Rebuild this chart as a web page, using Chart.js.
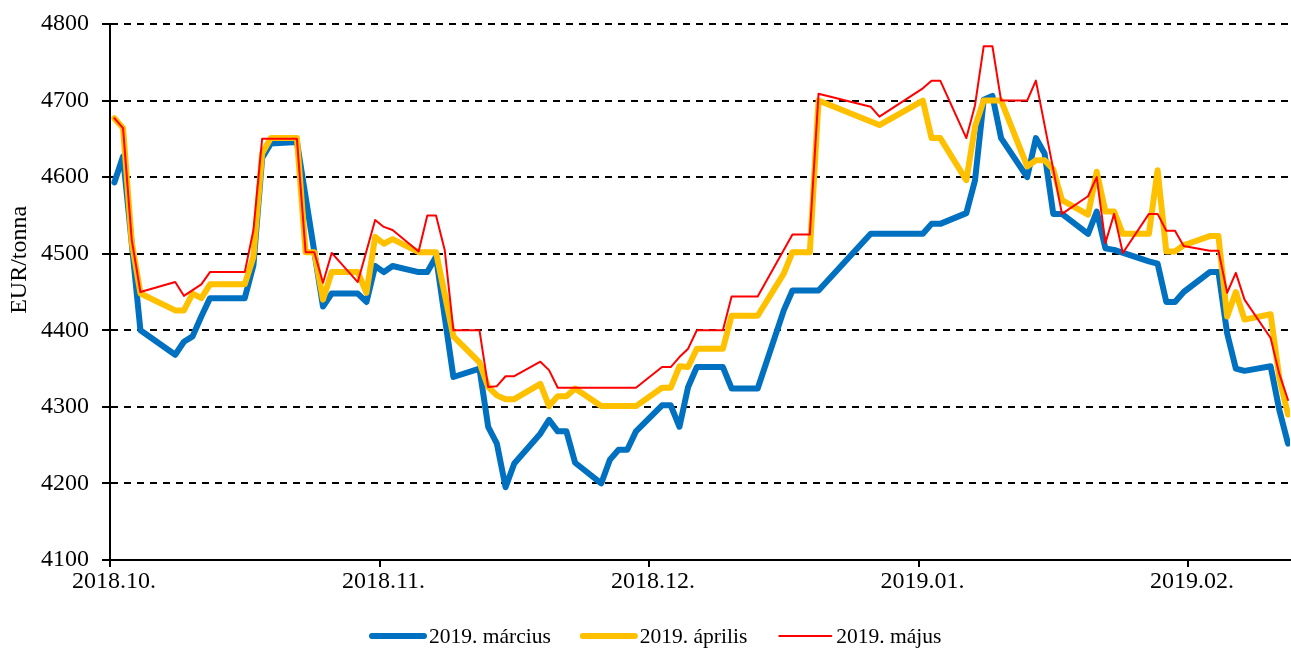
<!DOCTYPE html>
<html>
<head>
<meta charset="utf-8">
<script src="https://cdn.jsdelivr.net/npm/chart.js@4/dist/chart.umd.min.js"></script>
<style>
  html, body { margin: 0; padding: 0; background: #ffffff; }
  #wrap { width: 1291px; height: 651px; position: relative; }
</style>
</head>
<body>
<div id="wrap"><canvas id="chart"></canvas></div>
<script>
// Trading days (price quotes) from 2018-10-01 onwards
const tradingDays = [
  '2018-10-01','2018-10-02','2018-10-03','2018-10-04','2018-10-08','2018-10-09','2018-10-10','2018-10-11','2018-10-12',
  '2018-10-16','2018-10-17','2018-10-18','2018-10-19','2018-10-22','2018-10-23','2018-10-24','2018-10-25','2018-10-26',
  '2018-10-29','2018-10-30','2018-10-31','2018-11-01','2018-11-02','2018-11-05','2018-11-06','2018-11-07','2018-11-08',
  '2018-11-09','2018-11-12','2018-11-13','2018-11-14','2018-11-15','2018-11-16','2018-11-19','2018-11-20','2018-11-21',
  '2018-11-22','2018-11-23','2018-11-26','2018-11-27','2018-11-28','2018-11-29','2018-11-30','2018-12-03','2018-12-04',
  '2018-12-05','2018-12-06','2018-12-07','2018-12-10','2018-12-11','2018-12-14','2018-12-17','2018-12-18','2018-12-20',
  '2018-12-21','2018-12-27','2018-12-28','2019-01-02','2019-01-03','2019-01-04','2019-01-07','2019-01-08','2019-01-09',
  '2019-01-10','2019-01-11','2019-01-14','2019-01-15','2019-01-16','2019-01-17','2019-01-18','2019-01-21','2019-01-22',
  '2019-01-23','2019-01-24','2019-01-25','2019-01-28','2019-01-29','2019-01-30','2019-01-31','2019-02-01','2019-02-04',
  '2019-02-05','2019-02-06','2019-02-07','2019-02-08','2019-02-11','2019-02-12','2019-02-13'
];

// Futures prices, EUR/tonna (null = no quote shown for that day)
const marcius = [
  4593,4627,null,4400,4368,4385,4392,4418,4442,
  4442,4485,4625,4644,4646,null,null,4431,4448,
  4448,4437,4484,4476,4484,4476,4476,4496,null,
  4339,4350,4274,4252,4195,4226,4265,4283,4268,
  4268,4227,4200,4231,4244,4244,4268,4302,4302,
  4274,4326,4352,4352,4324,4324,4426,4452,null,
  4452,4526,null,4526,4539,4539,4553,4596,4701,
  4706,4651,4600,4651,4631,4552,4552,4526,4555,
  4507,4505,null,4490,4487,4437,4437,4450,4476,
  4476,4396,4350,4347,4353,4296,4252
];
const aprilis = [
  4677,4664,4515,4448,4426,4426,4448,4442,4460,
  4460,4496,4631,4651,4651,4502,4502,4440,4476,
  4476,4449,4522,4513,4519,4502,null,4502,null,
  4392,4358,4326,4315,4310,4310,4330,4301,4314,
  4314,4324,4301,null,null,null,4301,4325,4325,
  4353,4352,4376,4376,4419,4419,4474,4502,4502,
  4700,null,4668,4700,4651,4651,4596,4666,4700,
  null,4700,4614,4622,4622,4610,4570,4551,4607,
  4555,4555,4526,4526,4609,4503,4503,4511,4523,
  4523,4418,4450,4414,4421,4338,4290
];
const majus = [
  4677,4664,4518,4450,4463,4445,null,4460,4476,
  4476,4531,4650,null,4650,4502,4502,4462,4501,
  4463,null,4544,4535,4531,4503,4550,4550,4505,
  4400,4400,4326,4327,4340,4340,4359,4348,4325,
  null,null,null,null,null,null,4325,4352,4352,
  4365,4376,4400,4400,4444,4444,null,4525,4525,
  4709,4692,4679,4716,4726,4726,4651,4694,4771,
  4771,4700,4700,4726,null,null,4552,4575,4600,
  4514,4552,4501,4552,4552,4530,4530,4510,4504,
  4504,4449,4475,4440,4390,4343,4309
];

const seriesNames = ['2019. március', '2019. április', '2019. május'];
const seriesColors = ['#0070C0', '#FFC000', '#FF0000'];

// Axis: days counted from the first day, labels every 31 days
const axisStart = '2018-10-01';
const tickDays = [0, 31, 62, 93, 124];
const tickLabels = ['2018.10.', '2018.11.', '2018.12.', '2019.01.', '2019.02.'];
const axisEndDay = 135.73;
const yMin = 4100, yMax = 4800, yStep = 100;
const yTitle = 'EUR/tonna';

const FONT = '"Liberation Serif", "Times New Roman", serif';

function dayOffset(iso) {
  const [a, b, c] = iso.split('-').map(Number);
  const [s1, s2, s3] = axisStart.split('-').map(Number);
  return (Date.UTC(a, b - 1, c) - Date.UTC(s1, s2 - 1, s3)) / 86400000;
}

// each quote sits in the middle of its day slot
function toPoints(values) {
  return tradingDays.map((d, i) => ({ x: dayOffset(d) + 0.5, y: values[i] }));
}

const widths = [6, 6, 2];
const drawOrder = [2, 1, 0];
const datasets = [marcius, aprilis, majus].map((vals, i) => ({
  label: seriesNames[i],
  data: toPoints(vals),
  borderColor: seriesColors[i],
  backgroundColor: seriesColors[i],
  borderWidth: widths[i],
  borderJoinStyle: 'round',
  borderCapStyle: 'round',
  pointRadius: 0,
  pointHoverRadius: 0,
  tension: 0,
  spanGaps: true,
  order: drawOrder[i]
}));

// rotated axis title on the left
const yTitlePlugin = {
  id: 'yTitle',
  afterDraw(chart) {
    const { ctx, chartArea } = chart;
    ctx.save();
    ctx.font = '24px ' + FONT;
    ctx.fillStyle = '#000';
    ctx.textAlign = 'center';
    ctx.textBaseline = 'middle';
    ctx.translate(20, chartArea.top + (chartArea.bottom - chartArea.top) * 0.44);
    ctx.rotate(-Math.PI / 2);
    ctx.fillText(yTitle, 0, 0);
    ctx.restore();
  }
};

// legend row under the axis: line sample followed by the series name
const legendRow = {
  id: 'legendRow',
  afterDraw(chart) {
    const { ctx } = chart;
    const y = 636;
    const sample = 52, gap = 5, itemGap = 32;
    let x = 372;
    ctx.save();
    ctx.font = '21.5px ' + FONT;
    ctx.textBaseline = 'middle';
    ctx.textAlign = 'left';
    chart.data.datasets.forEach((ds) => {
      ctx.strokeStyle = ds.borderColor;
      ctx.lineWidth = ds.borderWidth;
      ctx.lineCap = 'round';
      ctx.beginPath();
      ctx.moveTo(x, y);
      ctx.lineTo(x + sample, y);
      ctx.stroke();
      x += sample + gap;
      ctx.fillStyle = '#000';
      ctx.fillText(ds.label, x, y + 1);
      x += ctx.measureText(ds.label).width + itemGap;
    });
    ctx.restore();
  }
};

new Chart(document.getElementById('chart'), {
  type: 'line',
  data: { datasets },
  plugins: [yTitlePlugin, legendRow],
  options: {
    responsive: true,
    maintainAspectRatio: false,
    animation: false,
    events: [],
    layout: { padding: { top: 24, right: 1, left: 0, bottom: 0 } },
    plugins: {
      tooltip: { enabled: false },
      legend: { display: false }
    },
    scales: {
      x: {
        type: 'linear',
        min: 0,
        max: axisEndDay,
        afterBuildTicks(scale) {
          scale.ticks = tickDays.map(v => ({ value: v }));
        },
        afterFit(scale) { scale.height = 91; },
        ticks: {
          autoSkip: false,
          maxRotation: 0,
          labelOffset: 4,
          padding: 0,
          color: '#000',
          font: { family: FONT, size: 24 },
          callback: (v) => tickLabels[tickDays.indexOf(v)] ?? ''
        },
        grid: {
          drawOnChartArea: false,
          drawTicks: true,
          tickLength: 7,
          color: '#000',
          lineWidth: 2
        },
        border: { display: true, color: '#000', width: 2 }
      },
      y: {
        min: yMin,
        max: yMax,
        afterFit(scale) { scale.width = 110; },
        ticks: {
          stepSize: yStep,
          padding: 13,
          color: '#000',
          font: { family: FONT, size: 24, lineHeight: 0.9 },
          callback: (v) => String(v)
        },
        grid: {
          color: '#000',
          lineWidth: 2,
          drawTicks: true,
          tickLength: 8,
          tickBorderDash: []
        },
        border: { display: true, color: '#000', width: 2, dash: [7, 6] }
      }
    }
  }
});
</script>
</body>
</html>
